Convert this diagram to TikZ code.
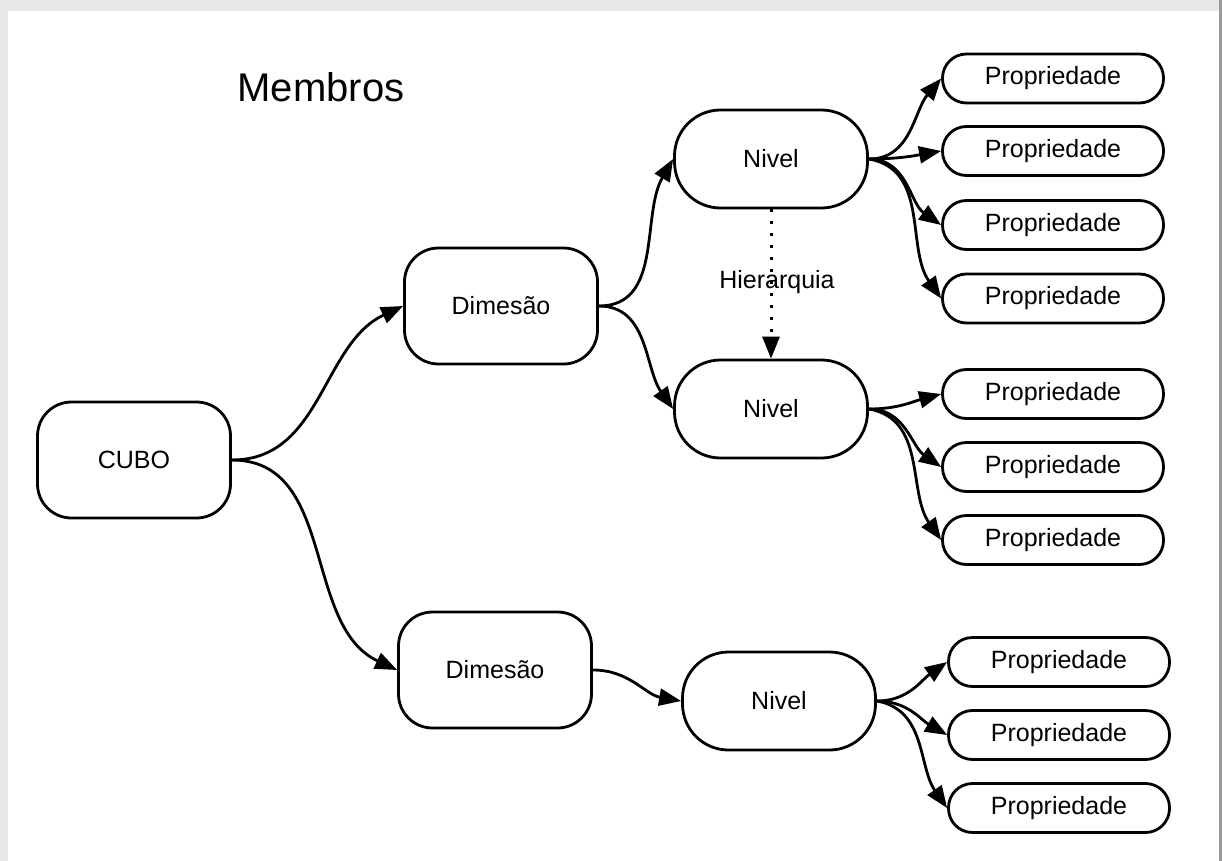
\documentclass[tikz,border=0pt]{standalone}
\usepackage{fontspec}
\setmainfont{Liberation Sans}
\usepackage{tikz}
\usetikzlibrary{arrows.meta}
\tikzstyle{box}=[draw, line width=2.8pt, inner sep=0, align=center]
\tikzstyle{bigbox}=[box, minimum width=193pt, minimum height=116pt, rounded corners=34pt]
\tikzstyle{levelbox}=[box, minimum width=193pt, minimum height=98pt, rounded corners=46pt]
\tikzstyle{propbox}=[box, minimum width=221pt, minimum height=49pt, rounded corners=24pt]
\tikzstyle{link}=[line width=2.8pt, -{Triangle[length=22pt,width=17pt]}]
\tikzstyle{membernet}=[x=1pt, y=-1pt,
                       % Default font for every label.
                       every node/.style={font=\fontsize{25}{30}\selectfont}]

\begin{document}
\begin{tikzpicture}[membernet]
        % frame
        \fill[black!9] (0, 0) rectangle (1222, 861);
        \fill[black!40] (1219, 0) rectangle (1222, 861);
        \fill[white] (8, 11) rectangle (1219, 861);
        \useasboundingbox (0, 0) rectangle (1222, 861);

        \node[font=\fontsize{40}{48}\selectfont] (title) at (321, 87) {Membros};

        \node[bigbox] (cubo) at (134, 460) {CUBO};
        \node[bigbox] (dim1) at (501, 306) {Dimesão};
        \node[bigbox] (dim2) at (495, 670) {Dimesão};
        \node[levelbox] (niv1) at (771, 159) {Nivel};
        \node[levelbox] (niv2) at (771, 409) {Nivel};
        \node[levelbox] (niv3) at (779, 701) {Nivel};

        \node[propbox] (p1) at (1053, 78.5) {Propriedade};
        \node[propbox] (p2) at (1053, 151) {Propriedade};
        \node[propbox] (p3) at (1053, 225) {Propriedade};
        \node[propbox] (p4) at (1053, 298.5) {Propriedade};
        \node[propbox] (p5) at (1053, 394) {Propriedade};
        \node[propbox] (p6) at (1053, 467) {Propriedade};
        \node[propbox] (p7) at (1053, 540) {Propriedade};
        \node[propbox] (p8) at (1059, 662) {Propriedade};
        \node[propbox] (p9) at (1059, 735) {Propriedade};
        \node[propbox] (p10) at (1059, 808) {Propriedade};

        \draw[link] (cubo.east) to[out=0, in=205] (dim1.west);
        \draw[link] (cubo.east) to[out=0, in=155] (dim2.west);
        \draw[link] (dim1.east) to[out=0, in=240] (niv1.west);
        \draw[link] (dim1.east) to[out=0, in=125] (niv2.west);
        \draw[link] (dim2.east) to[out=0, in=170] (niv3.west);

        \draw[link] (niv1.east) to[out=0, in=230] (p1.west);
        \draw[link] (niv1.east) to[out=0, in=190] (p2.west);
        \draw[link] (niv1.east) to[out=0, in=145] (p3.west);
        \draw[link] (niv1.east) to[out=-10, in=125] (p4.west);
        \draw[link] (niv2.east) to[out=0, in=195] (p5.west);
        \draw[link] (niv2.east) to[out=0, in=145] (p6.west);
        \draw[link] (niv2.east) to[out=-10, in=125] (p7.west);
        \draw[link] (niv3.east) to[out=0, in=215] (p8.west);
        \draw[link] (niv3.east) to[out=0, in=150] (p9.west);
        \draw[link] (niv3.east) to[out=-10, in=125] (p10.west);

        \draw[link, line width=3pt, dash pattern=on 3pt off 9pt] (niv1.south) -- (niv2.north);
        \node (hier) at (777, 282) {Hierarquia};
    \end{tikzpicture}
\end{document}
